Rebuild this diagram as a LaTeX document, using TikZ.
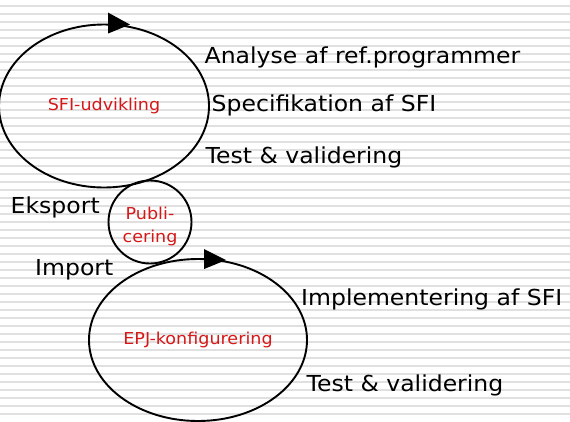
\documentclass[tikz,border=0pt]{standalone}
\usepackage{fontspec}
\usetikzlibrary{shapes.geometric}
\newfontfamily\diagfont[FakeStretch=1.07]{DejaVu Sans}
\definecolor{phasered}{RGB}{214,24,24}

\begin{document}
\begin{tikzpicture}[x=1pt,y=-1pt]
\tikzstyle{every node}+=[inner sep=0pt]
\tikzstyle{stripe}=[draw=gray!24, line width=2pt]
\tikzstyle{phase}=[draw=black, ellipse, line width=1.9pt, text=phasered, font=\diagfont\fontsize{16.4}{23}\selectfont]
\tikzstyle{hub}=[draw=black, circle, line width=1.9pt, text=phasered, align=center, font=\diagfont\fontsize{16.4}{23}\selectfont]
\tikzstyle{task}=[anchor=base west, text=black, font=\diagfont\fontsize{22}{26}\selectfont]
\useasboundingbox (0,0) rectangle (570,421);
% background lines
\foreach \y in {6,14,...,420}
  \draw [stripe] (0,\y) -- (570,\y);
% the two cycles and the hand-over
\node [phase, minimum width=210pt, minimum height=163pt] (udv) at (104,106) {SFI-udvikling};
\node [hub, minimum size=83pt] (pub) at (150,222) {\rule{0pt}{20.5pt}Publi-\\cering};
\node [phase, minimum width=218pt, minimum height=162pt] (epj) at (198,340) {EPJ-konfigurering};
\fill [black, shift={(udv.north)}] (4,-11) -- (26,1) -- (4,10) -- cycle;
\fill [black, shift={(epj.north)}] (6,-9) -- (28,2) -- (6,11) -- cycle;
% activities
\node [task] (analyse) at (204.5,63) {Analyse af ref.programmer};
\node [task] (spec) at (211.5,111) {Specifikation af SFI};
\node [task] (test1) at (205.5,163) {Test \& validering};
\node [task] (eksport) at (10.5,213) {Eksport};
\node [task] (import) at (35,275) {Import};
\node [task] (impl) at (301,305) {Implementering af SFI};
\node [task] (test2) at (306.5,391) {Test \& validering};
\end{tikzpicture}
\end{document}
